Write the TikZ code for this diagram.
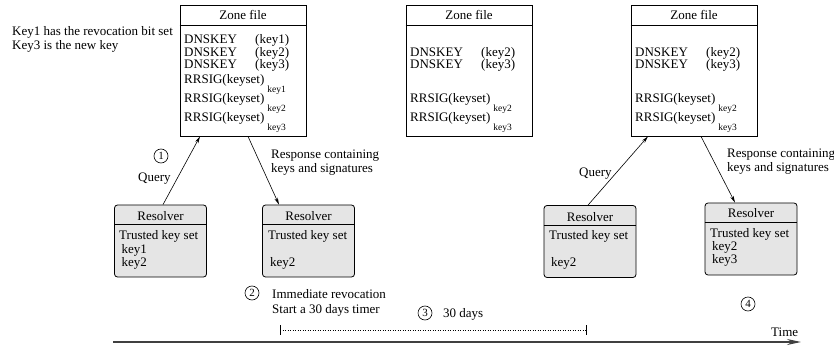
\documentclass[tikz,border=0pt]{standalone}
\usepackage{fontspec}
\setmainfont{Liberation Serif}
\usetikzlibrary{arrows.meta}
\tikzset{
  zbox/.style={draw, line width=0.8pt, inner sep=0pt, minimum width=126pt, minimum height=131pt},
  rbox/.style={draw, fill=gray!20, rounded corners=3pt, line width=0.8pt, inner sep=0pt, minimum width=92pt, minimum height=72pt},
  txt/.style={anchor=base west, inner sep=0pt, font=\fontsize{13}{13}\selectfont},
  ctxt/.style={anchor=base, inner sep=0pt, font=\fontsize{13}{13}\selectfont},
  num/.style={circle, draw, line width=0.6pt, inner sep=0pt, minimum size=14pt, font=\fontsize{11}{11}\selectfont},
  arr/.style={-{Stealth[length=7pt,width=3.5pt]}, line width=0.6pt},
}
\newcommand{\dk}[1]{\makebox[71pt][l]{DNSKEY}(#1)}
\newcommand{\rs}[1]{RRSIG(keyset)\hspace{3pt}\raisebox{-9pt}{\fontsize{9.5}{9.5}\selectfont #1}}
\begin{document}
\begin{tikzpicture}[x=1pt,y=-1pt]
\useasboundingbox (0,0) rectangle (834,347);
% notes
\node[txt] (n1) at (12,36) {Key1 has the revocation bit set};
\node[txt] (n2) at (12,50) {Key3 is the new key};
% zone files
\node[zbox] (z1) at (243,70.5) {};
\node[zbox] (z2) at (469,70.5) {};
\node[zbox] (z3) at (694,70.5) {};
\foreach \z in {z1,z2,z3}{
  \draw[line width=0.8pt] (\z.west |- 0,25) -- (\z.east |- 0,25);
  \node[ctxt] at (\z.north |- 0,20) {Zone file};
}
\node[txt] (a1) at (184,44) {\dk{key1}};
\node[txt] (a2) at (184,56.5) {\dk{key2}};
\node[txt] (a3) at (184,69) {\dk{key3}};
\node[txt] (a4) at (184,84) {\rs{key1}};
\node[txt] (a5) at (184,103) {\rs{key2}};
\node[txt] (a6) at (184,122) {\rs{key3}};
\node[txt] (b2) at (410,56.5) {\dk{key2}};
\node[txt] (b3) at (410,69) {\dk{key3}};
\node[txt] (b5) at (410,103) {\rs{key2}};
\node[txt] (b6) at (410,122) {\rs{key3}};
\node[txt] (c2) at (635,56.5) {\dk{key2}};
\node[txt] (c3) at (635,69) {\dk{key3}};
\node[txt] (c5) at (635,103) {\rs{key2}};
\node[txt] (c6) at (635,122) {\rs{key3}};
% resolvers
\node[rbox] (r1) at (160.5,241) {};
\node[rbox] (r2) at (308.5,241) {};
\node[rbox] (r3) at (590,241.5) {};
\node[rbox] (r4) at (751,239) {};
\draw[line width=0.8pt] (r1.west |- 0,224) -- (r1.east |- 0,224);
\draw[line width=0.8pt] (r2.west |- 0,224) -- (r2.east |- 0,224);
\draw[line width=0.8pt] (r3.west |- 0,225) -- (r3.east |- 0,225);
\draw[line width=0.8pt] (r4.west |- 0,222) -- (r4.east |- 0,222);
\node[ctxt] at (r1.north |- 0,221) {Resolver};
\node[ctxt] at (r2.north |- 0,221) {Resolver};
\node[ctxt] at (r3.north |- 0,222) {Resolver};
\node[ctxt] at (r4.north |- 0,218) {Resolver};
\node[txt] at (119,240) {Trusted key set};
\node[txt] at (121.5,253) {key1};
\node[txt] at (121.5,266) {key2};
\node[txt] at (268,240) {Trusted key set};
\node[txt] at (270,266) {key2};
\node[txt] at (549,240) {Trusted key set};
\node[txt] at (551,266) {key2};
\node[txt] at (710,237) {Trusted key set};
\node[txt] at (712,250) {key2};
\node[txt] at (712,263) {key3};
% arrows
\draw[arr] ([xshift=2.5pt]r1.north) -- ([xshift=-43pt]z1.south);
\draw[arr] ([xshift=5pt]z1.south) -- ([xshift=-29.5pt]r2.north);
\draw[arr] ([xshift=-2pt]r3.north) -- ([xshift=-46pt]z3.south);
\draw[arr] ([xshift=7pt]z3.south) -- ([xshift=-16pt]r4.north);
% labels
\node[txt] at (138,182) {Query};
\node[txt] at (579,177) {Query};
\node[txt] at (271,159) {Response containing};
\node[txt] at (271,173) {keys and signatures};
\node[txt] at (727,158) {Response containing};
\node[txt] at (727,172) {keys and signatures};
\node[num] (k1) at (161,156) {1};
\node[num] (k2) at (252,293) {2};
\node[num] (k3) at (425,313) {3};
\node[num] (k4) at (748,304) {4};
\node[txt] at (272,298) {Immediate revocation};
\node[txt] at (272,313) {Start a 30 days timer};
\node[txt] at (443,317) {30 days};
% timer
\coordinate (d0) at (280,330);
\coordinate (d1) at (586,330);
\draw[dotted, line width=0.5pt] (d0) -- (d1);
\draw[line width=0.6pt] ([yshift=5pt]d0) -- ([yshift=-5pt]d0);
\draw[line width=0.6pt] ([yshift=5pt]d1) -- ([yshift=-5pt]d1);
% time axis
\coordinate (t0) at (113,342);
\coordinate (t1) at (801,342);
\draw[line width=1.3pt, black!75, -{Stealth[length=14pt,width=6pt]}] (t0) -- (t1);
\node[txt] at (771,336) {Time};
\end{tikzpicture}
\end{document}
